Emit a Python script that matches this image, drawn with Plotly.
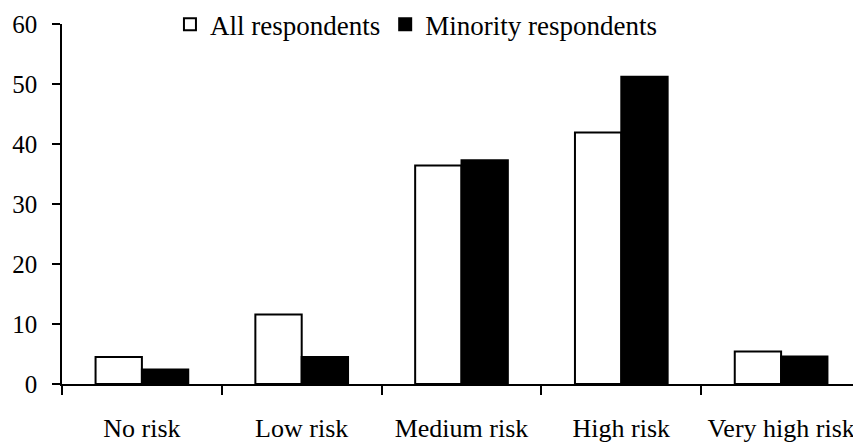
import plotly.graph_objects as go

categories = ["No risk", "Low risk", "Medium risk", "High risk", "Very high risk"]
all_resp = [4.5, 11.6, 36.4, 41.9, 5.4]
minority_resp = [2.4, 4.5, 37.3, 51.2, 4.6]
y_ticks = [0, 10, 20, 30, 40, 50, 60]

fam = "Liberation Serif, Times New Roman, serif"

fig = go.Figure()
fig.add_trace(go.Bar(x=categories, y=all_resp, name="All respondents",
                     marker=dict(color="white", line=dict(color="black", width=2))))
fig.add_trace(go.Bar(x=categories, y=minority_resp, name="Minority respondents",
                     marker=dict(color="black", line=dict(color="black", width=2))))

fig.update_layout(
    width=853, height=437,
    margin=dict(l=54, r=0, t=16, b=61, autoexpand=False),
    paper_bgcolor="white", plot_bgcolor="white",
    font=dict(family=fam, size=25, color="black"),
    barmode="group", bargap=0.42, bargroupgap=0,
    showlegend=True,
    legend=dict(orientation="h", x=0.443, xanchor="center", y=0.998, yanchor="middle",
                font=dict(family=fam, size=27, color="black"), itemwidth=30,
                tracegroupgap=0, bgcolor="rgba(0,0,0,0)"),
)
fig.update_xaxes(showline=True, linecolor="black", linewidth=1.5,
                 ticks="outside", tickson="boundaries", ticklen=9, tickwidth=1.5,
                 tickcolor="black", showgrid=False, ticklabelstandoff=20,
                 tickfont=dict(family=fam, size=26, color="black"),
                 range=[-0.5, 4.5])
fig.update_yaxes(range=[0, 60], tickvals=y_ticks, showline=True, linecolor="black",
                 linewidth=1.5, ticks="outside", ticklen=8, tickwidth=1.5,
                 tickcolor="black", showgrid=False, zeroline=False,
                 ticklabelstandoff=10,
                 tickfont=dict(family=fam, size=25, color="black"))

fig.write_html("out.html")
